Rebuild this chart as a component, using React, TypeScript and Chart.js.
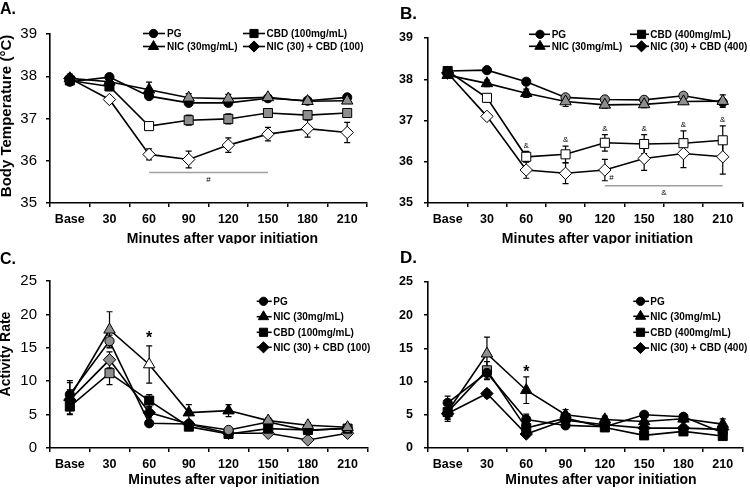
import React, { useEffect, useRef } from "react";
import { Chart, registerables } from "chart.js";

Chart.register(...registerables);

// ---------------- data ----------------
const CATEGORIES = ["Base", "30", "60", "90", "120", "150", "180", "210"];

const TEMP_TICKS = [35, 39, 1];
const ACT_TICKS = [0, 25, 5];

// Panel A: body temperature, CBD 100
const A_PG = [37.87, 37.98, 37.53, 37.37, 37.37, 37.48, 37.42, 37.5];
const A_PG_ERR = [0.05, 0.04, 0.05, 0.05, 0.06, 0.04, 0.04, 0.04];
const A_NIC = [37.95, 37.87, 37.68, 37.49, 37.47, 37.5, 37.41, 37.42];
const A_NIC_ERR = [0.08, 0.06, 0.18, 0.1, 0.1, 0.05, 0.05, 0.06];
const A_CBD = [37.9, 37.76, 36.82, 36.96, 36.99, 37.13, 37.08, 37.13];
const A_CBD_ERR = [0.07, 0.1, 0.05, 0.12, 0.12, 0.08, 0.07, 0.1];
const A_COMBO = [37.95, 37.45, 36.15, 36.03, 36.37, 36.63, 36.76, 36.67];
const A_COMBO_ERR = [0.1, 0.05, 0.13, 0.2, 0.17, 0.16, 0.2, 0.24];

// Panel B: body temperature, CBD 400
const B_PG = [38.2, 38.22, 37.94, 37.56, 37.51, 37.5, 37.6, 37.44];
const B_PG_ERR = [0.05, 0.05, 0.05, 0.05, 0.05, 0.05, 0.05, 0.05];
const B_NIC = [38.1, 37.9, 37.66, 37.46, 37.38, 37.39, 37.46, 37.47];
const B_NIC_ERR = [0.05, 0.08, 0.1, 0.12, 0.08, 0.08, 0.06, 0.15];
const B_CBD = [38.2, 37.55, 36.12, 36.18, 36.46, 36.43, 36.45, 36.52];
const B_CBD_ERR = [0.05, 0.1, 0.13, 0.2, 0.2, 0.23, 0.3, 0.35];
const B_COMBO = [38.15, 37.1, 35.8, 35.72, 35.8, 36.08, 36.2, 36.12];
const B_COMBO_ERR = [0.05, 0.05, 0.2, 0.25, 0.26, 0.29, 0.34, 0.42];

// Panel C: activity, CBD 100
const C_PG = [8.0, 16.0, 3.7, 3.6, 2.7, 3.9, 2.6, 3.0];
const C_PG_ERR = [1.8, 0.9, 0.4, 0.4, 0.4, 0.4, 0.4, 0.4];
const C_NIC = [7.6, 17.7, 12.5, 5.3, 5.6, 4.1, 3.4, 3.1];
const C_NIC_ERR = [2.5, 2.7, 2.8, 1.2, 0.9, 0.4, 0.4, 0.4];
const C_CBD = [6.2, 11.2, 7.1, 3.2, 2.1, 2.9, 2.7, 2.9];
const C_CBD_ERR = [1.2, 1.7, 0.9, 0.4, 0.3, 0.3, 0.3, 0.3];
const C_COMBO = [7.2, 13.2, 5.3, 3.6, 2.2, 2.2, 1.2, 2.2];
const C_COMBO_ERR = [1.5, 1.2, 0.8, 0.4, 0.3, 0.3, 0.3, 0.3];

// Panel D: activity, CBD 400
const D_PG = [6.8, 11.3, 4.3, 3.4, 3.2, 5.0, 4.7, 2.3];
const D_PG_ERR = [1.0, 1.0, 0.8, 0.4, 0.4, 0.4, 0.4, 0.4];
const D_NIC = [5.5, 14.2, 8.7, 5.0, 4.3, 4.0, 4.4, 3.6];
const D_NIC_ERR = [1.2, 2.5, 2.0, 0.8, 0.5, 0.5, 0.5, 0.8];
const D_CBD = [5.4, 11.7, 3.0, 4.5, 3.1, 1.9, 2.5, 1.8];
const D_CBD_ERR = [1.0, 1.3, 0.6, 0.5, 0.4, 0.4, 0.4, 0.5];
const D_COMBO = [5.2, 8.2, 2.1, 4.2, 3.5, 3.0, 3.0, 2.8];
const D_COMBO_ERR = [1.2, 0.6, 0.4, 0.5, 0.4, 0.4, 0.4, 0.5];

// Significance annotations (category index, value)
const A_HASH_LINE = { from: 2, to: 5, value: 35.72, mark: "#" };
const B_AMP_LINE = { from: 4, to: 7, value: 35.42, mark: "&" };
const B_AMP_POINTS = [2, 3, 4, 5, 6, 7];
const B_HASH_POINT = { index: 4, value: 35.8 };
const C_STAR = { index: 2, value: 16.8 };
const D_STAR = { index: 2, value: 11.8 };

// Legend labels
const LABELS_100 = ["PG", "NIC (30mg/mL)", "CBD (100mg/mL)", "NIC (30) + CBD (100)"];
const LABELS_400 = ["PG", "NIC (30mg/mL)", "CBD (400mg/mL)", "NIC (30) + CBD (400)"];

// ---------------- styles ----------------
const FONT = "'Liberation Sans', Arial, Helvetica, sans-serif";
const COL: Record<string, string> = { k: "#000000", g: "#8e8e8e", w: "#ffffff" };
const SHAPES = ["circle", "triangle", "rect", "rectRot"]; // PG, NIC, CBD, COMBO
const RADII = [4.6, 6.6, 6.4, 6.2];

const A_FILLS = ["kkkkkkkk", "kkkggggg", "kkwggggg", "kwwwwwww"];
const B_FILLS = ["kkkggggk", "kkkggggg", "kwwwwwww", "kwwwwwww"];
const C_FILLS = ["kgkkgkkg", "kgwkkggg", "kgkkkkkk", "kgkggggg"];
const D_FILLS = ["kkkkkkkk", "kgkkkkkk", "kgkkkkkk", "kkkkkkkk"];

type Legend = { series: number; x1: number; x2: number; mx: number; y: number; tx: number };

interface Spec {
  ox: number; oy: number;
  letter: string; letterX: number; letterY: number; letterSize: number;
  ticks: number[];
  yTickFont: { size: number; weight: string };
  yTickPad: number;
  area: { left: number; top: number; right: number; bottom: number };
  yTitle?: { text: string; x: number; y: number; size: number };
  xTitle: { x: number; y: number };
  values: number[][]; errors: number[][]; fills: string[]; labels: string[];
  legend: Legend[];
  decorate: (chart: any, ctx: CanvasRenderingContext2D) => void;
}

function drawMarker(ctx: CanvasRenderingContext2D, shape: string, x: number, y: number, r: number) {
  ctx.beginPath();
  if (shape === "circle") ctx.arc(x, y, r, 0, Math.PI * 2);
  else if (shape === "triangle") {
    ctx.moveTo(x, y - r);
    ctx.lineTo(x + 0.866 * r, y + 0.5 * r);
    ctx.lineTo(x - 0.866 * r, y + 0.5 * r);
    ctx.closePath();
  } else if (shape === "rect") {
    const s = r * Math.SQRT1_2;
    ctx.rect(x - s, y - s, 2 * s, 2 * s);
  } else {
    ctx.moveTo(x - r, y);
    ctx.lineTo(x, y - r);
    ctx.lineTo(x + r, y);
    ctx.lineTo(x, y + r);
    ctx.closePath();
  }
  ctx.fill();
  ctx.stroke();
}

function sigLine(chart: any, ctx: CanvasRenderingContext2D, l: { from: number; to: number; value: number; mark: string }) {
  const xs = chart.scales.x, ys = chart.scales.y;
  const y = ys.getPixelForValue(l.value);
  ctx.save();
  ctx.strokeStyle = "#a0a0a0";
  ctx.lineWidth = 1.5;
  ctx.beginPath();
  ctx.moveTo(xs.getPixelForValue(l.from), y);
  ctx.lineTo(xs.getPixelForValue(l.to), y);
  ctx.stroke();
  ctx.fillStyle = "#000";
  ctx.font = `8px ${FONT}`;
  ctx.textAlign = "center";
  ctx.textBaseline = "middle";
  ctx.fillText(l.mark, xs.getPixelForValue((l.from + l.to) / 2), y + 7);
  ctx.restore();
}

function makePlugin(spec: Spec) {
  return {
    id: "decor" + spec.letter,
    beforeDatasetsDraw(chart: any) {
      const ctx = chart.ctx as CanvasRenderingContext2D;
      const xs = chart.scales.x, ys = chart.scales.y;
      ctx.save();
      ctx.strokeStyle = "#000";
      ctx.lineWidth = 1.2;
      chart.data.datasets.forEach((ds: any) => {
        ds.errors.forEach((e: number, i: number) => {
          const v = ds.data[i];
          const px = xs.getPixelForValue(i);
          const t = ys.getPixelForValue(v + e), b = ys.getPixelForValue(v - e);
          ctx.beginPath();
          ctx.moveTo(px, t); ctx.lineTo(px, b);
          ctx.moveTo(px - 3, t); ctx.lineTo(px + 3, t);
          ctx.moveTo(px - 3, b); ctx.lineTo(px + 3, b);
          ctx.stroke();
        });
      });
      ctx.restore();
    },
    afterDraw(chart: any) {
      const ctx = chart.ctx as CanvasRenderingContext2D;
      ctx.save();
      // panel letter
      ctx.fillStyle = "#000";
      ctx.font = `bold ${spec.letterSize}px ${FONT}`;
      ctx.textAlign = "left";
      ctx.textBaseline = "alphabetic";
      ctx.fillText(spec.letter, spec.letterX, spec.letterY);
      // x title
      ctx.font = `bold 14px ${FONT}`;
      ctx.textAlign = "center";
      ctx.fillText("Minutes after vapor initiation", spec.xTitle.x, spec.xTitle.y);
      // y title
      if (spec.yTitle) {
        ctx.save();
        ctx.translate(spec.yTitle.x, spec.yTitle.y);
        ctx.rotate(-Math.PI / 2);
        ctx.font = `bold ${spec.yTitle.size}px ${FONT}`;
        ctx.textAlign = "center";
        ctx.textBaseline = "middle";
        ctx.fillText(spec.yTitle.text, 0, 0);
        ctx.restore();
      }
      // legend
      spec.legend.forEach((it) => {
        ctx.strokeStyle = "#000";
        ctx.lineWidth = 1.6;
        ctx.beginPath();
        ctx.moveTo(it.x1, it.y);
        ctx.lineTo(it.x2, it.y);
        ctx.stroke();
        ctx.fillStyle = "#000";
        ctx.lineWidth = 1;
        drawMarker(ctx, SHAPES[it.series], it.mx, it.y, RADII[it.series] * 0.9);
        ctx.font = `bold 10px ${FONT}`;
        ctx.textAlign = "left";
        ctx.textBaseline = "middle";
        ctx.fillText(spec.labels[it.series], it.tx, it.y + 0.5);
      });
      spec.decorate(chart, ctx);
      ctx.restore();
    },
  };
}

function buildConfig(spec: Spec): any {
  const order = [1, 0, 2, 3]; // NIC drawn on top
  const datasets = order.map((s) => ({
    label: spec.labels[s],
    data: spec.values[s],
    errors: spec.errors[s],
    borderColor: "#000",
    borderWidth: 1.6,
    tension: 0,
    fill: false,
    pointStyle: SHAPES[s],
    pointRadius: RADII[s],
    pointBorderColor: "#000",
    pointBorderWidth: 1,
    pointBackgroundColor: spec.fills[s].split("").map((c) => COL[c]),
  }));
  const a = spec.area;
  return {
    type: "line",
    data: { labels: CATEGORIES, datasets },
    options: {
      responsive: false,
      animation: false,
      devicePixelRatio: 1,
      events: [],
      layout: { padding: { left: 0, top: a.top, right: 375 - a.right, bottom: 0 } },
      plugins: { legend: { display: false }, tooltip: { enabled: false }, title: { display: false } },
      scales: {
        x: {
          type: "category",
          offset: true,
          grid: { offset: true, drawOnChartArea: false, drawTicks: true, tickLength: 4, color: "#000", lineWidth: 1.5 },
          border: { display: true, color: "#000", width: 1.6 },
          ticks: { color: "#000", font: { family: FONT, size: 12.5, weight: "bold" }, padding: 5, maxRotation: 0, autoSkip: false },
          afterFit: (s: any) => { s.height = 244 - a.bottom; },
        },
        y: {
          min: spec.ticks[0],
          max: spec.ticks[1],
          ticks: { stepSize: spec.ticks[2], color: "#000", font: { family: FONT, size: spec.yTickFont.size, weight: spec.yTickFont.weight }, padding: spec.yTickPad },
          grid: { drawOnChartArea: false, drawTicks: true, tickLength: 4, color: "#000", lineWidth: 1.5 },
          border: { display: true, color: "#000", width: 1.6 },
          afterFit: (s: any) => { s.width = a.left; },
        },
      },
    },
    plugins: [makePlugin(spec)],
  };
}

function legendGrid(c1: number[], c2: number[], rows: number[]): Legend[] {
  // c = [lineStart, lineEnd, markerX, textX]
  return [
    { series: 0, x1: c1[0], x2: c1[1], mx: c1[2], y: rows[0], tx: c1[3] },
    { series: 2, x1: c2[0], x2: c2[1], mx: c2[2], y: rows[0], tx: c2[3] },
    { series: 1, x1: c1[0], x2: c1[1], mx: c1[2], y: rows[1], tx: c1[3] },
    { series: 3, x1: c2[0], x2: c2[1], mx: c2[2], y: rows[1], tx: c2[3] },
  ];
}

function legendColumn(c: number[], rows: number[]): Legend[] {
  return rows.map((y, i) => ({ series: i, x1: c[0], x2: c[1], mx: c[2], y, tx: c[3] }));
}

function textAt(chart: any, ctx: CanvasRenderingContext2D, text: string, xi: number, yPx: number, font: string) {
  const xs = chart.scales.x;
  ctx.save();
  ctx.fillStyle = "#000";
  ctx.font = font;
  ctx.textAlign = "center";
  ctx.textBaseline = "middle";
  ctx.fillText(text, xs.getPixelForValue(xi), yPx);
  ctx.restore();
}

const SPECS: Spec[] = [
  {
    ox: 0, oy: 0, letter: "A.", letterX: 0, letterY: 13.5, letterSize: 16,
    ticks: TEMP_TICKS, yTickFont: { size: 15, weight: "normal" }, yTickPad: 9,
    area: { left: 50, top: 34, right: 367, bottom: 203 },
    yTitle: { text: "Body Temperature (°C)", x: 6.5, y: 116, size: 15 },
    xTitle: { x: 222.5, y: 243 },
    values: [A_PG, A_NIC, A_CBD, A_COMBO], errors: [A_PG_ERR, A_NIC_ERR, A_CBD_ERR, A_COMBO_ERR],
    fills: A_FILLS, labels: LABELS_100,
    legend: legendGrid([143, 165, 153.5, 167], [243, 265, 254, 266.5], [33.5, 46.5]),
    decorate: (chart, ctx) => { sigLine(chart, ctx, A_HASH_LINE); },
  },
  {
    ox: 375, oy: 0, letter: "B.", letterX: 25, letterY: 18.5, letterSize: 17,
    ticks: TEMP_TICKS, yTickFont: { size: 12.5, weight: "bold" }, yTickPad: 11,
    area: { left: 53, top: 38, right: 368, bottom: 203 },
    xTitle: { x: 222.5, y: 243 },
    values: [B_PG, B_NIC, B_CBD, B_COMBO], errors: [B_PG_ERR, B_NIC_ERR, B_CBD_ERR, B_COMBO_ERR],
    fills: B_FILLS, labels: LABELS_400,
    legend: legendGrid([154, 175, 165, 176.7], [255, 274, 266.5, 275.3], [34.3, 46.3]),
    decorate: (chart, ctx) => {
      sigLine(chart, ctx, B_AMP_LINE);
      const ys = chart.scales.y;
      B_AMP_POINTS.forEach((i) => {
        textAt(chart, ctx, "&", i, ys.getPixelForValue(B_CBD[i] + B_CBD_ERR[i]) - 6, `8px ${FONT}`);
      });
      textAt(chart, ctx, "#", B_HASH_POINT.index + 0.17, ys.getPixelForValue(B_HASH_POINT.value) + 8, `8px ${FONT}`);
    },
  },
  {
    ox: 0, oy: 244, letter: "C.", letterX: 0, letterY: 19.5, letterSize: 16,
    ticks: ACT_TICKS, yTickFont: { size: 15, weight: "normal" }, yTickPad: 9,
    area: { left: 50, top: 37, right: 370, bottom: 204 },
    yTitle: { text: "Activity Rate", x: 6.5, y: 110, size: 14 },
    xTitle: { x: 224, y: 240 },
    values: [C_PG, C_NIC, C_CBD, C_COMBO], errors: [C_PG_ERR, C_NIC_ERR, C_CBD_ERR, C_COMBO_ERR],
    fills: C_FILLS, labels: LABELS_100,
    legend: legendColumn([256.7, 271.7, 263.5, 273.3], [57.3, 72.7, 88.3, 103.3]),
    decorate: (chart, ctx) => {
      textAt(chart, ctx, "*", C_STAR.index, chart.scales.y.getPixelForValue(C_STAR.value) + 3, `bold 16px ${FONT}`);
    },
  },
  {
    ox: 375, oy: 244, letter: "D.", letterX: 25, letterY: 18.5, letterSize: 17,
    ticks: ACT_TICKS, yTickFont: { size: 12.5, weight: "bold" }, yTickPad: 11,
    area: { left: 53, top: 38, right: 373, bottom: 204 },
    xTitle: { x: 226, y: 240 },
    values: [D_PG, D_NIC, D_CBD, D_COMBO], errors: [D_PG_ERR, D_NIC_ERR, D_CBD_ERR, D_COMBO_ERR],
    fills: D_FILLS, labels: LABELS_400,
    legend: legendColumn([258.3, 274, 265.5, 275.3], [57.3, 72.3, 88.3, 104]),
    decorate: (chart, ctx) => {
      textAt(chart, ctx, "*", D_STAR.index, chart.scales.y.getPixelForValue(D_STAR.value) + 3, `bold 16px ${FONT}`);
    },
  },
];

function Panel({ spec }: { spec: Spec }) {
  const ref = useRef<HTMLCanvasElement>(null);
  useEffect(() => {
    if (!ref.current) return;
    const chart = new Chart(ref.current, buildConfig(spec));
    return () => chart.destroy();
  }, [spec]);
  return (
    <canvas
      ref={ref}
      width={375}
      height={244}
      style={{ position: "absolute", left: spec.ox, top: spec.oy, width: 375, height: 244 }}
    />
  );
}

export default function App() {
  return (
    <div style={{ position: "absolute", left: 0, top: 0, width: 750, height: 488, background: "#fff", overflow: "hidden" }}>
      {SPECS.map((s) => (
        <Panel key={s.letter} spec={s} />
      ))}
    </div>
  );
}
